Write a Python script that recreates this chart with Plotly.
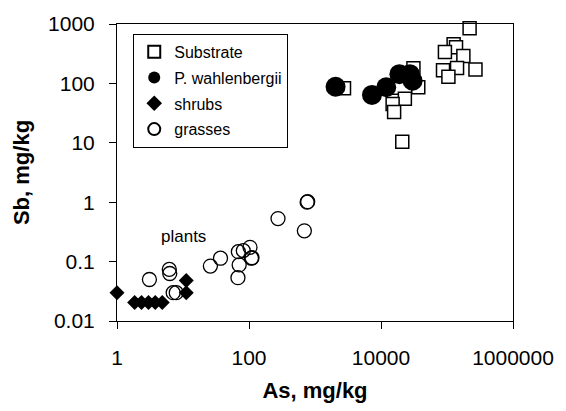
import plotly.graph_objects as go

# ---- data ----
substrate_as = [2750, 31000, 36700, 15400, 23000, 15000, 15800, 21000,
                220000, 126000, 137000, 93000, 177000, 87000, 142000, 270000, 105000]
substrate_sb = [83, 180, 86, 51, 55, 45, 33, 10.4,
                850, 454, 408, 339, 289, 167, 181, 171, 129]

pw_as = [2050, 7300, 12000, 19000, 27400, 30100]
pw_sb = [88, 64, 86, 143, 143, 111]

shrubs_as = [1, 1.85, 2.35, 3.0, 3.8, 4.85, 11.2, 11.2]
shrubs_sb = [0.030, 0.0205, 0.0205, 0.0205, 0.0205, 0.0205, 0.048, 0.030]

grasses_as = [3.1, 6.2, 6.3, 7.1, 7.9, 26, 37, 69, 82, 103.5, 71, 68, 109, 111, 275, 775, 760, 690]
grasses_sb = [0.050, 0.074, 0.063, 0.030, 0.030, 0.084, 0.114, 0.147, 0.153, 0.174,
              0.088, 0.0536, 0.114, 0.116, 0.53, 1.02, 1.0, 0.33]

x_ticks = [1, 100, 10000, 1000000]
x_ticklabels = ["1", "100", "10000", "1000000"]
y_ticks = [0.01, 0.1, 1, 10, 100, 1000]
y_ticklabels = ["0.01", "0.1", "1", "10", "100", "1000"]

FONT = "Liberation Sans, Arial, sans-serif"

fig = go.Figure()
fig.add_trace(go.Scatter(
    x=substrate_as, y=substrate_sb, mode="markers", name="Substrate",
    legendgroup="a", cliponaxis=False,
    marker=dict(symbol="square", size=13, color="white",
                line=dict(color="black", width=1.5))))
fig.add_trace(go.Scatter(
    x=pw_as, y=pw_sb, mode="markers", name="P. wahlenbergii",
    legendgroup="b", cliponaxis=False,
    marker=dict(symbol="circle", size=20, color="black",
                line=dict(color="black", width=0))))
fig.add_trace(go.Scatter(
    x=shrubs_as, y=shrubs_sb, mode="markers", name="shrubs",
    legendgroup="c", cliponaxis=False,
    marker=dict(symbol="diamond", size=11.5, color="black",
                line=dict(color="black", width=0))))
fig.add_trace(go.Scatter(
    x=grasses_as, y=grasses_sb, mode="markers", name="grasses",
    legendgroup="d", cliponaxis=False,
    marker=dict(symbol="circle", size=14, color="rgba(255,255,255,0)",
                line=dict(color="black", width=1.3))))

fig.add_annotation(x=1.015, y=-0.577, xref="x", yref="y", text="plants",
                   showarrow=False, font=dict(family=FONT, size=17, color="black"))

fig.update_layout(
    width=566, height=411,
    margin=dict(l=117, r=50, t=23, b=88),
    paper_bgcolor="white", plot_bgcolor="white",
    font=dict(family=FONT, size=21, color="black"),
    showlegend=True,
    legend=dict(x=0.041, y=0.967, xanchor="left", yanchor="top",
                bordercolor="black", borderwidth=1, bgcolor="white",
                font=dict(family=FONT, size=16, color="black"),
                itemsizing="constant", itemwidth=30, tracegroupgap=2,
                traceorder="grouped"),
    xaxis=dict(type="log", range=[0, 6], tickvals=x_ticks, ticktext=x_ticklabels,
               showgrid=False, zeroline=False, showline=True, linecolor="black",
               linewidth=1, mirror=True, ticks="outside", ticklen=7, tickcolor="black",
               tickfont=dict(family=FONT, size=21), ticklabelstandoff=11,
               title=dict(text="<b>As, mg/kg</b>", font=dict(family=FONT, size=22), standoff=14)),
    yaxis=dict(type="log", range=[-2, 3], tickvals=y_ticks, ticktext=y_ticklabels,
               showgrid=False, zeroline=False, showline=True, linecolor="black",
               linewidth=1, mirror=True, ticks="outside", ticklen=7, tickcolor="black",
               tickfont=dict(family=FONT, size=21), ticklabelstandoff=10,
               title=dict(text="<b>Sb, mg/kg</b>", font=dict(family=FONT, size=22), standoff=12)),
)

fig.write_html("out.html")
